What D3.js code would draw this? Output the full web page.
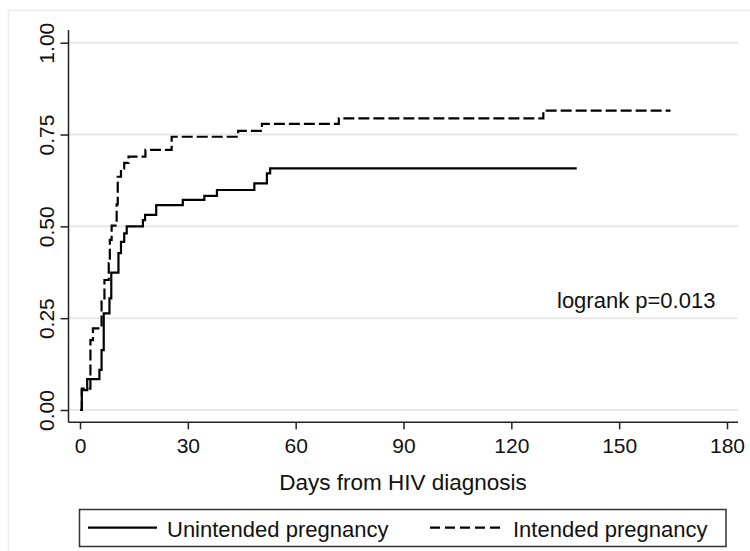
<!DOCTYPE html>
<html>
<head>
<meta charset="utf-8">
<script src="https://cdn.jsdelivr.net/npm/d3@7"></script>
<style>
  body { margin: 0; background: #fff; }
  text { font-family: "Liberation Sans", Arial, sans-serif; fill: #111; }
</style>
</head>
<body>
<svg id="chart" width="750" height="551"></svg>
<script>
// Kaplan-Meier style cumulative curves.
var xTicks = [0, 30, 60, 90, 120, 150, 180];
var yTicks = [0, 0.25, 0.5, 0.75, 1.0];
var yTickLabels = ["0.00", "0.25", "0.50", "0.75", "1.00"];

// [day, value] : value holds from that day on
var unintendedSteps = [
    [0, 0], [0.5, 0.054], [2.0, 0.084], [5.4, 0.109], [6.0, 0.163], [6.6, 0.263],
    [8.2, 0.304], [8.7, 0.374], [10.7, 0.427], [11.4, 0.458], [12.3, 0.481], [13.0, 0.50],
    [17.5, 0.517], [18.1, 0.531], [21.2, 0.558], [28.6, 0.572], [34.6, 0.583], [38.1, 0.599],
    [48.5, 0.617], [52.0, 0.644], [52.9, 0.658], [138.2, 0.658]
];
var intendedSteps = [
    [0, 0], [0.5, 0.058], [2.9, 0.19], [3.6, 0.222], [6.0, 0.295], [6.8, 0.354],
    [8.0, 0.40], [8.3, 0.463], [8.8, 0.502], [10.2, 0.56], [10.5, 0.635], [11.4, 0.658],
    [12.3, 0.673], [13.5, 0.69], [18.2, 0.708], [25.5, 0.744], [44.0, 0.760], [50.6, 0.779],
    [72.0, 0.794], [128.9, 0.815], [164.3, 0.815]
];
var seriesNames = ["Unintended pregnancy", "Intended pregnancy"];
var annotation = "logrank p=0.013";
var xTitle = "Days from HIV diagnosis";

var svg = d3.select("#chart");

// Faint outer graph region border
svg.append("rect")
    .attr("x", 8.5).attr("y", 10.5).attr("width", 800).attr("height", 600)
    .attr("fill", "none").attr("stroke", "#ececec").attr("stroke-width", 1.5);

var x = d3.scaleLinear().domain([0, 180]).range([80, 727]);
var y = d3.scaleLinear().domain([0, 1]).range([410, 42.7]);

var plotLeft = 68.5, plotRight = 738, axisY = 422.3;

// Gridlines
svg.append("g").selectAll("line").data(yTicks).join("line")
    .attr("x1", plotLeft).attr("x2", plotRight)
    .attr("y1", function (d) { return y(d); }).attr("y2", function (d) { return y(d); })
    .attr("stroke", "#e8e8e8").attr("stroke-width", 2);

// Y axis
var yAxis = d3.axisLeft(y).tickValues(yTicks).tickSize(8)
    .tickFormat(function (d, i) { return yTickLabels[i]; });
var gy = svg.append("g").attr("transform", "translate(" + plotLeft + ",0)").call(yAxis);
gy.select(".domain").remove();
gy.append("line").attr("x1", 0).attr("x2", 0).attr("y1", 30).attr("y2", axisY)
    .attr("stroke", "#222").attr("stroke-width", 1.5);
gy.selectAll(".tick line").attr("stroke", "#222").attr("stroke-width", 1.5);
gy.selectAll(".tick text")
    .attr("x", 0).attr("y", 0).attr("dy", 0)
    .attr("transform", "translate(-15,0) rotate(-90)")
    .attr("text-anchor", "middle")
    .style("font-size", "21px").style("font-family", "'Liberation Sans', Arial, sans-serif")
    .attr("fill", "#111");

// X axis
var xAxis = d3.axisBottom(x).tickValues(xTicks).tickSize(7);
var gx = svg.append("g").attr("transform", "translate(0," + axisY + ")").call(xAxis);
gx.select(".domain").remove();
gx.append("line").attr("x1", plotLeft).attr("x2", plotRight).attr("y1", 0).attr("y2", 0)
    .attr("stroke", "#222").attr("stroke-width", 1.5);
gx.selectAll(".tick line").attr("stroke", "#222").attr("stroke-width", 1.5);
gx.selectAll(".tick text")
    .attr("y", 31).attr("dy", 0)
    .style("font-size", "21px").style("font-family", "'Liberation Sans', Arial, sans-serif")
    .attr("fill", "#111");

// Axis title
svg.append("text").attr("x", 403).attr("y", 490).attr("text-anchor", "middle")
    .style("font-size", "22.5px").text(xTitle);

// Curves
var line = d3.line()
    .x(function (d) { return x(d[0]); })
    .y(function (d) { return y(d[1]); })
    .curve(d3.curveStepAfter);

svg.append("path").datum(intendedSteps).attr("d", line)
    .attr("fill", "none").attr("stroke", "#000").attr("stroke-width", 2.2)
    .attr("stroke-dasharray", "11,4");
svg.append("path").datum(unintendedSteps).attr("d", line)
    .attr("fill", "none").attr("stroke", "#000").attr("stroke-width", 2.2);

// Annotation
svg.append("text").attr("x", 557).attr("y", 308).style("font-size", "22px").text(annotation);

// Legend
var legend = svg.append("g");
legend.append("rect").attr("x", 79.5).attr("y", 509.5).attr("width", 646.5).attr("height", 37)
    .attr("fill", "#fff").attr("stroke", "#333").attr("stroke-width", 1.5);
legend.append("line").attr("x1", 88).attr("x2", 157).attr("y1", 527.7).attr("y2", 527.7)
    .attr("stroke", "#000").attr("stroke-width", 2.2);
legend.append("text").attr("x", 167).attr("y", 536.5).style("font-size", "22px").text(seriesNames[0]);
legend.append("line").attr("x1", 430).attr("x2", 500).attr("y1", 527.7).attr("y2", 527.7)
    .attr("stroke", "#000").attr("stroke-width", 2.2).attr("stroke-dasharray", "10,5");
legend.append("text").attr("x", 513).attr("y", 536.5).style("font-size", "22px").text(seriesNames[1]);
</script>
</body>
</html>
